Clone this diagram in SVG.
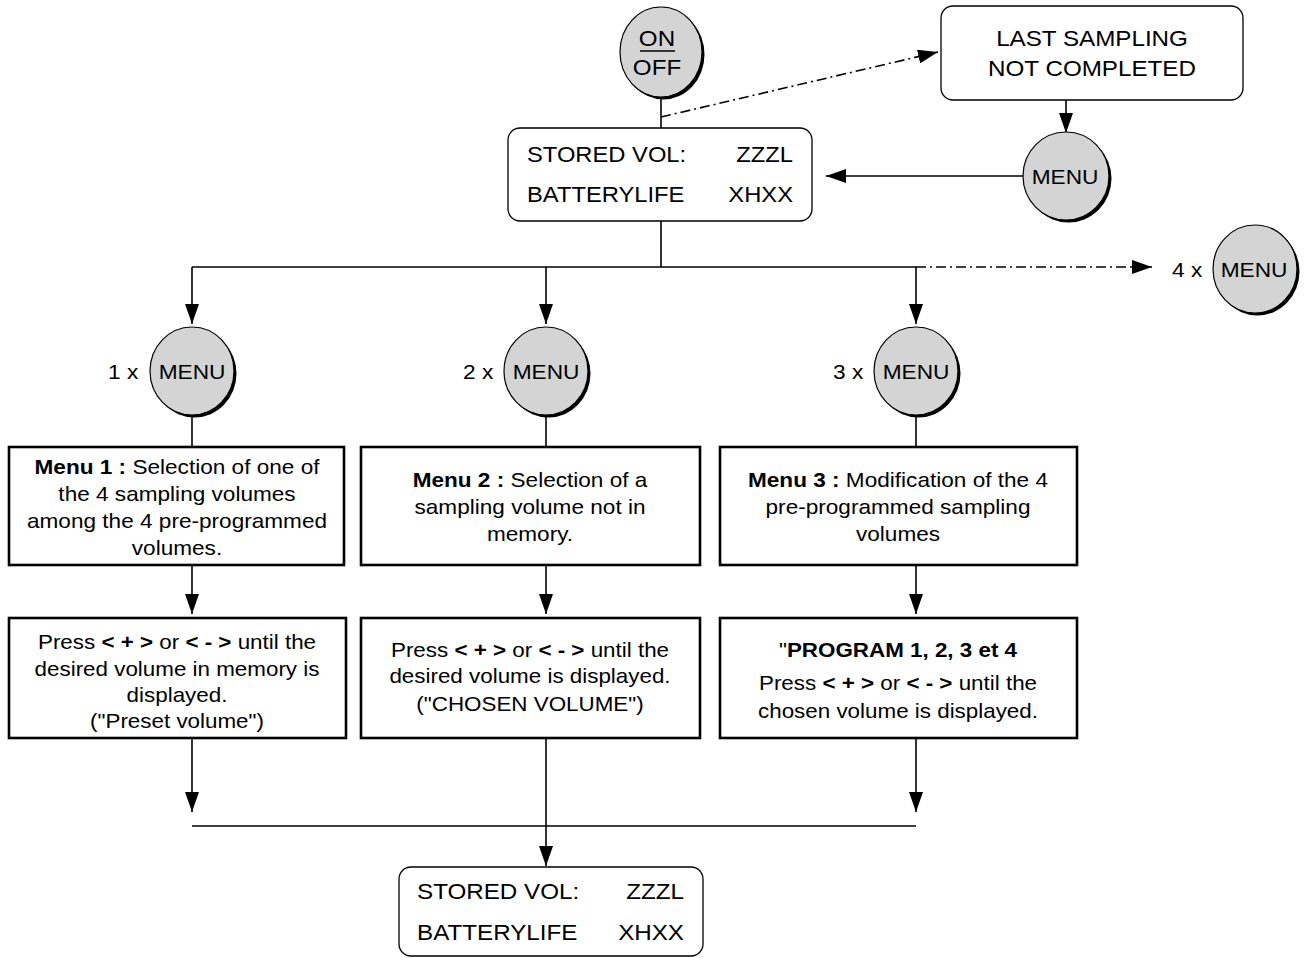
<svg xmlns="http://www.w3.org/2000/svg" width="1311" height="958" viewBox="0 0 1311 958">
<style>
.t{font-family:"Liberation Sans",Arial,Helvetica,sans-serif;fill:#000}
.bx{font-size:20px;text-anchor:middle}
.dp{font-size:22px}
.mn{font-size:21px;text-anchor:middle}
.b{font-weight:bold}
.ln{stroke:#000;stroke-width:1.6;fill:none}
.dd{stroke:#000;stroke-width:1.6;fill:none;stroke-dasharray:10 4 2 4}
.sq{fill:#fff;stroke:#000;stroke-width:2.6}
.rd{fill:#fff;stroke:#000;stroke-width:1.3}
.btn{fill:#d4d4d4;stroke:#000;stroke-width:1.2}
.sh{fill:#000}
</style>
<defs>
<marker id="ah" markerUnits="userSpaceOnUse" markerWidth="20" markerHeight="14" viewBox="0 0 20 14" refX="20" refY="7" orient="auto"><path d="M0,0 L20,7 L0,14 z" fill="#000"/></marker>
</defs>
<rect width="1311" height="958" fill="#fff"/>

<g id="connectors">
<path class="ln" d="M661,97 V128"/>
<path class="dd" d="M661,117 L938,52" marker-end="url(#ah)"/>
<path class="ln" d="M1066,100 V133" marker-end="url(#ah)"/>
<path class="ln" d="M1023,176 H826" marker-end="url(#ah)"/>
<path class="ln" d="M661,221 V267"/>
<path class="ln" d="M192,267 H916"/>
<path class="dd" d="M916,267 H1152" marker-end="url(#ah)"/>
<path class="ln" d="M192,267 V324" marker-end="url(#ah)"/>
<path class="ln" d="M546,267 V324" marker-end="url(#ah)"/>
<path class="ln" d="M916,267 V324" marker-end="url(#ah)"/>
<path class="ln" d="M192,415 V447"/>
<path class="ln" d="M546,415 V447"/>
<path class="ln" d="M916,415 V447"/>
<path class="ln" d="M192,565 V614" marker-end="url(#ah)"/>
<path class="ln" d="M546,565 V614" marker-end="url(#ah)"/>
<path class="ln" d="M916,565 V614" marker-end="url(#ah)"/>
<path class="ln" d="M192,738 V812" marker-end="url(#ah)"/>
<path class="ln" d="M916,738 V812" marker-end="url(#ah)"/>
<path class="ln" d="M192,826 H916"/>
<path class="ln" d="M546,738 V866" marker-end="url(#ah)"/>
</g>

<g id="onoff">
<ellipse class="sh" cx="663.5" cy="54.5" rx="41" ry="45"/>
<ellipse class="btn" cx="661" cy="52" rx="41" ry="45"/>
<g transform="translate(657,0) scale(1.1,1)"><text class="t dp" x="0" y="46" text-anchor="middle">ON</text><text class="t dp" x="0" y="75" text-anchor="middle">OFF</text></g>
<line x1="640" y1="51" x2="675" y2="51" stroke="#000" stroke-width="1.6"/>
</g>

<g id="last">
<rect class="rd" x="941" y="6" width="302" height="94" rx="12"/>
<g transform="translate(1092,0) scale(1.1,1)"><text class="t dp" x="0" y="46" text-anchor="middle">LAST SAMPLING</text><text class="t dp" x="0" y="76" text-anchor="middle">NOT COMPLETED</text></g>
</g>

<g id="menuR">
<ellipse class="sh" cx="1068.5" cy="178.5" rx="43" ry="44"/>
<ellipse class="btn" cx="1066" cy="176" rx="43" ry="44"/>
<g transform="translate(1065,0) scale(1.08,1)"><text class="t mn" x="0" y="184">MENU</text></g>
</g>

<g id="stored1">
<rect class="rd" x="508" y="128" width="304" height="93" rx="12"/>
<g transform="translate(527,0) scale(1.08,1)"><text class="t dp" x="0" y="162">STORED VOL:</text><text class="t dp" x="0" y="202">BATTERYLIFE</text></g>
<g transform="translate(793,0) scale(1.08,1)"><text class="t dp" x="0" y="162" text-anchor="end">ZZZL</text><text class="t dp" x="0" y="202" text-anchor="end">XHXX</text></g>
</g>

<g id="menu4">
<ellipse class="sh" cx="1257.5" cy="271.5" rx="42" ry="44"/>
<ellipse class="btn" cx="1255" cy="269" rx="42" ry="44"/>
<g transform="translate(1254,0) scale(1.08,1)"><text class="t mn" x="0" y="277">MENU</text></g>
<g transform="translate(1172,0) scale(1.08,1)"><text class="t dp" x="0" y="277" style="font-size:21px">4 x</text></g>
</g>

<g id="menu1">
<ellipse class="sh" cx="194.5" cy="373.5" rx="42" ry="44"/>
<ellipse class="btn" cx="192" cy="371" rx="42" ry="44"/>
<g transform="translate(192,0) scale(1.08,1)"><text class="t mn" x="0" y="379">MENU</text></g>
<g transform="translate(108,0) scale(1.08,1)"><text class="t dp" x="0" y="379" style="font-size:21px">1 x</text></g>
</g>
<g id="menu2">
<ellipse class="sh" cx="548.5" cy="373.5" rx="42" ry="44"/>
<ellipse class="btn" cx="546" cy="371" rx="42" ry="44"/>
<g transform="translate(546,0) scale(1.08,1)"><text class="t mn" x="0" y="379">MENU</text></g>
<g transform="translate(463,0) scale(1.08,1)"><text class="t dp" x="0" y="379" style="font-size:21px">2 x</text></g>
</g>
<g id="menu3">
<ellipse class="sh" cx="918.5" cy="373.5" rx="42" ry="44"/>
<ellipse class="btn" cx="916" cy="371" rx="42" ry="44"/>
<g transform="translate(916,0) scale(1.08,1)"><text class="t mn" x="0" y="379">MENU</text></g>
<g transform="translate(833,0) scale(1.08,1)"><text class="t dp" x="0" y="379" style="font-size:21px">3 x</text></g>
</g>

<g id="box1">
<rect class="sq" x="9" y="447" width="335" height="118"/>
<g transform="translate(177,0) scale(1.13,1)">
<text class="t bx" x="0" y="474"><tspan class="b">Menu 1 :</tspan> Selection of one of</text>
<text class="t bx" x="0" y="501">the 4 sampling volumes</text>
<text class="t bx" x="0" y="528">among the 4 pre-programmed</text>
<text class="t bx" x="0" y="555">volumes.</text>
</g>
</g>
<g id="box2">
<rect class="sq" x="361" y="447" width="339" height="118"/>
<g transform="translate(530,0) scale(1.13,1)">
<text class="t bx" x="0" y="487"><tspan class="b">Menu 2 :</tspan> Selection of a</text>
<text class="t bx" x="0" y="514">sampling volume not in</text>
<text class="t bx" x="0" y="541">memory.</text>
</g>
</g>
<g id="box3">
<rect class="sq" x="720" y="447" width="357" height="118"/>
<g transform="translate(898,0) scale(1.13,1)">
<text class="t bx" x="0" y="487"><tspan class="b">Menu 3 :</tspan> Modification of the 4</text>
<text class="t bx" x="0" y="514">pre-programmed sampling</text>
<text class="t bx" x="0" y="541">volumes</text>
</g>
</g>

<g id="box4">
<rect class="sq" x="9" y="618" width="337" height="120"/>
<g transform="translate(177,0) scale(1.12,1)">
<text class="t bx" x="0" y="649">Press <tspan class="b">&lt; + &gt;</tspan> or <tspan class="b">&lt; - &gt;</tspan> until the</text>
<text class="t bx" x="0" y="676">desired volume in memory is</text>
<text class="t bx" x="0" y="702">displayed.</text>
<text class="t bx" x="0" y="728">("Preset volume")</text>
</g>
</g>
<g id="box5">
<rect class="sq" x="361" y="618" width="339" height="120"/>
<g transform="translate(530,0) scale(1.12,1)">
<text class="t bx" x="0" y="657">Press <tspan class="b">&lt; + &gt;</tspan> or <tspan class="b">&lt; - &gt;</tspan> until the</text>
<text class="t bx" x="0" y="683">desired volume is displayed.</text>
<text class="t bx" x="0" y="711">("CHOSEN VOLUME")</text>
</g>
</g>
<g id="box6">
<rect class="sq" x="720" y="618" width="357" height="120"/>
<g transform="translate(898,0) scale(1.12,1)">
<text class="t bx" x="0" y="657">"<tspan class="b">PROGRAM 1, 2, 3 et 4</tspan></text>
<text class="t bx" x="0" y="690">Press <tspan class="b">&lt; + &gt;</tspan> or <tspan class="b">&lt; - &gt;</tspan> until the</text>
<text class="t bx" x="0" y="718">chosen volume is displayed.</text>
</g>
</g>

<g id="stored2">
<rect class="rd" x="399" y="867" width="304" height="89" rx="12"/>
<g transform="translate(417,0) scale(1.1,1)"><text class="t dp" x="0" y="899">STORED VOL:</text><text class="t dp" x="0" y="940">BATTERYLIFE</text></g>
<g transform="translate(684,0) scale(1.1,1)"><text class="t dp" x="0" y="899" text-anchor="end">ZZZL</text><text class="t dp" x="0" y="940" text-anchor="end">XHXX</text></g>
</g>
</svg>
